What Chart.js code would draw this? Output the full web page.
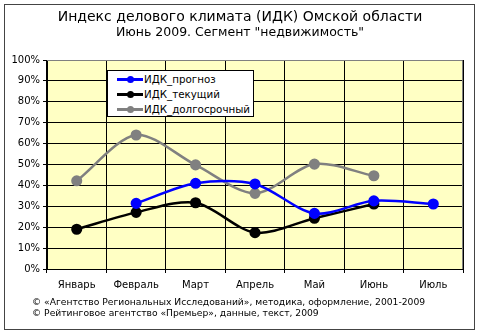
<!DOCTYPE html>
<html>
<head>
<meta charset="utf-8">
<script src="https://cdn.jsdelivr.net/npm/chart.js@4/dist/chart.umd.min.js"></script>
<style>
  body { margin: 0; background: #fff; }
  .wrap { position: relative; width: 480px; height: 333px; }
  .legend {
    position: absolute; left: 107px; top: 70px; width: 145px; height: 45px;
    background: #fff; border: 1px solid #000;
    font: 10.3px "DejaVu Sans", Verdana, sans-serif; color: #000;
  }
  .legend .item { position: absolute; left: 9px; height: 15px; line-height: 15px; }
  .legend .sample { position: absolute; left: 0; top: 6px; width: 26px; height: 3px; }
  .legend .dot { position: absolute; left: 10px; top: 4px; width: 7px; height: 7px; border-radius: 50%; }
  .legend .label { position: absolute; left: 27px; white-space: nowrap; }
</style>
</head>
<body>
<div class="wrap">
  <canvas id="myChart" width="480" height="333"></canvas>
  <div class="legend" id="legend"></div>
</div>
<script>
const months = ["Январь", "Февраль", "Март", "Апрель", "Май", "Июнь", "Июль"];
const forecast = [null, 31.4, 41.0, 40.7, 26.6, 32.6, 31.1];
const current = [19.0, 27.1, 31.7, 17.4, 24.3, 31.1, null];
const longTerm = [42.2, 64.1, 49.8, 36.2, 50.2, 44.6, null];
const seriesNames = ["ИДК_прогноз", "ИДК_текущий", "ИДК_долгосрочный"];
const seriesColors = ["#0000FF", "#000000", "#808080"];
const yTicks = [0, 10, 20, 30, 40, 50, 60, 70, 80, 90, 100];

const FONT = '"DejaVu Sans", Verdana, sans-serif';

// фон, рамка и подписи
const decor = {
  id: "decor",
  beforeDraw(chart) {
    const { ctx, chartArea: a } = chart;
    ctx.save();
    ctx.fillStyle = "#fff";
    ctx.fillRect(0, 0, chart.width, chart.height);
    ctx.strokeStyle = "#444";
    ctx.lineWidth = 1;
    ctx.strokeRect(4.5, 4.5, 470, 325);
    ctx.fillStyle = "#FFFFC4";
    ctx.fillRect(a.left, a.top, a.right - a.left, a.bottom - a.top);
    ctx.fillStyle = "#000";
    ctx.textAlign = "center";
    ctx.textBaseline = "middle";
    ctx.font = "14px " + FONT;
    ctx.fillText("Индекс делового климата (ИДК) Омской области", 240, 17);
    ctx.font = "12.5px " + FONT;
    ctx.fillText("Июнь 2009. Сегмент \"недвижимость\"", 240, 33);
    ctx.textAlign = "left";
    ctx.font = "9.2px " + FONT;
    ctx.fillText("© «Агентство Региональных Исследований», методика, оформление, 2001-2009", 32, 303);
    ctx.fillText("© Рейтинговое агентство «Премьер», данные, текст, 2009", 32, 314);
    ctx.restore();
  },
  beforeDatasetsDraw(chart) {
    const { ctx, chartArea: a } = chart;
    ctx.save();
    ctx.strokeStyle = "#808080";
    ctx.lineWidth = 1;
    ctx.beginPath();
    ctx.moveTo(a.left, a.top + 0.5);
    ctx.lineTo(a.right - 0.5, a.top + 0.5);
    ctx.lineTo(a.right - 0.5, a.bottom);
    ctx.stroke();
    ctx.restore();
  }
};

const datasets = [forecast, current, longTerm].map((d, i) => ({
  label: seriesNames[i],
  data: d,
  borderColor: seriesColors[i],
  backgroundColor: seriesColors[i],
  borderWidth: 2.5,
  pointRadius: 4.3,
  pointHoverRadius: 4.3,
  tension: 0.3
}));

new Chart(document.getElementById("myChart").getContext("2d"), {
  type: "line",
  data: { labels: months, datasets: datasets },
  plugins: [decor],
  options: {
    responsive: false,
    animation: false,
    layout: { padding: { left: 0, right: 17, top: 60, bottom: 0 } },
    plugins: { legend: { display: false }, tooltip: { enabled: false } },
    scales: {
      x: {
        offset: true,
        grid: { offset: true, color: "#000", tickLength: 4, drawOnChartArea: true },
        border: { color: "#000" },
        ticks: { color: "#000", font: { family: FONT, size: 10 }, padding: 6, maxRotation: 0 },
        afterFit(s) { s.height = 64; }
      },
      y: {
        min: 0, max: 100,
        afterBuildTicks(s) { s.ticks = yTicks.map(v => ({ value: v })); },
        grid: { color: "#000", tickLength: 4 },
        border: { color: "#000" },
        ticks: { color: "#000", font: { family: FONT, size: 10 }, padding: 3, callback: v => v + "%" },
        afterFit(s) { s.width = 47; }
      }
    }
  }
});

const legend = document.getElementById("legend");
seriesNames.forEach((name, i) => {
  const item = document.createElement("div");
  item.className = "item";
  item.style.top = (1 + i * 15) + "px";
  item.innerHTML = '<div class="sample" style="background:' + seriesColors[i] + '"></div>' +
    '<div class="dot" style="background:' + seriesColors[i] + '"></div>' +
    '<div class="label">' + name + '</div>';
  legend.appendChild(item);
});
</script>
</body>
</html>
